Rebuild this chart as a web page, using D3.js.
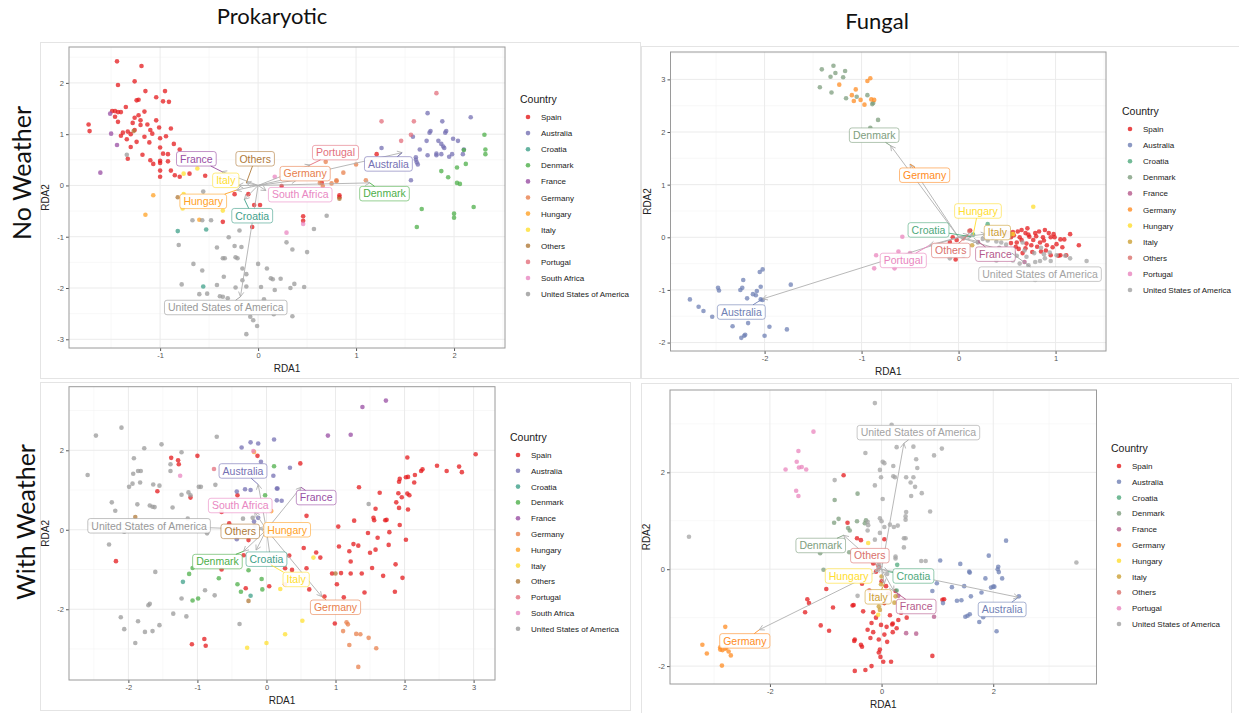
<!DOCTYPE html>
<html>
<head>
<meta charset="utf-8">
<script src="https://cdn.jsdelivr.net/npm/d3@7"></script>
<style>
body { margin: 0; background: #fff; }
svg { display: block; font-family: "Liberation Sans", Arial, sans-serif; }
</style>
</head>
<body>
<div id="chart"></div>
<script>
//Countries and colours
const prokCountries = ["Spain", "Australia", "Croatia", "Denmark", "France", "Germany", "Hungary", "Italy", "Others", "Portugal", "South Africa", "United States of America"];
const prokColors = ["#E41A1C", "#7570B3", "#3FA08A", "#4DAF4A", "#984EA3", "#E8804C", "#FFA126", "#FFE030", "#B07A3A", "#E36F7C", "#E987C2", "#999999"];
const fungCountries = ["Spain", "Australia", "Croatia", "Denmark", "France", "Germany", "Hungary", "Italy", "Others", "Portugal", "United States of America"];
const fungColors = ["#E41A1C", "#6F80B4", "#4FA97C", "#7E9E7E", "#B5598B", "#FF8C23", "#FFDD2E", "#CCA035", "#DA716C", "#E985BE", "#A3A3A3"];

//Ticks
const p1XTicks = [-1, 0, 1, 2], p1YTicks = [-3, -2, -1, 0, 1, 2];
const p2XTicks = [-2, -1, 0, 1], p2YTicks = [-2, -1, 0, 1, 2, 3];
const p3XTicks = [-2, -1, 0, 1, 2, 3], p3YTicks = [-2, 0, 2];
const p4XTicks = [-2, 0, 2], p4YTicks = [-2, 0, 2];
const p1XDomain = [-1.93, 2.52], p1YDomain = [-3.17, 2.70];
const p2XDomain = [-2.97, 1.52], p2YDomain = [-2.16, 3.52];
const p3XDomain = [-2.86, 3.31], p3YDomain = [-3.78, 3.60];
const p4XDomain = [-3.79, 3.85], p4YDomain = [-2.37, 3.70];

//Prokaryotic, no weather: site scores
const p1Points = [
  ["Spain", [[-1.44,2.42],[-1.19,2.33],[-1.26,2.03],[-1.43,1.96],[-1.15,1.84],[-0.95,1.84],[-1.04,1.72],[-0.97,1.64],[-0.91,1.63],[-1.24,1.66],[-1.22,1.67],[-1.73,1.19],[-1.72,1.06],[-1.49,1.45],[-1.46,1.45],[-1.43,1.43],[-1.40,1.43],[-1.35,1.53],[-1.46,1.34],[-1.43,1.24],[-1.26,1.32],[-1.22,1.37],[-1.20,1.27],[-1.28,1.22],[-1.16,1.44],[-1.13,1.19],[-1.04,1.27],[-1.01,1.13],[-0.89,1.11],[-1.38,1.03],[-1.40,0.97],[-1.33,1.05],[-1.26,1.08],[-1.20,1.18],[-1.34,0.90],[-1.24,0.85],[-1.30,0.75],[-1.16,0.95],[-1.08,1.01],[-1.11,0.84],[-1.00,0.92],[-0.94,0.96],[-1.00,0.74],[-0.97,0.62],[-0.92,0.61],[-0.86,0.81],[-0.80,0.70],[-1.10,0.49],[-1.00,0.48],[-1.00,0.44],[-0.92,0.47],[-1.07,0.42],[-0.89,0.29],[-1.00,0.29],[-1.00,0.17],[-0.85,0.20],[-0.80,0.17],[-0.70,0.23],[-0.54,0.19],[-1.33,0.52],[-0.24,-0.17],[-0.10,-0.17],[-0.04,-0.38],[0.02,-0.38],[-0.36,-0.71],[-0.06,-0.81],[0.24,-0.01],[0.46,-0.60],[0.46,-0.69],[0.83,-0.19],[0.83,-0.23],[0.65,0.05],[1.21,0.61],[-1.30,1.00],[-1.10,1.08],[-1.18,0.60],[-0.75,0.60]]],
  ["Australia", [[1.73,1.41],[1.88,1.25],[2.17,1.33],[1.58,0.95],[1.75,1.03],[1.76,1.06],[1.91,1.03],[1.92,1.06],[1.72,0.87],[1.84,0.87],[1.87,0.81],[1.89,0.76],[1.90,0.73],[1.99,0.91],[2.04,0.87],[1.65,0.70],[1.73,0.59],[1.82,0.62],[1.82,0.59],[1.87,0.61],[1.95,0.56],[1.98,0.61],[2.09,0.61],[2.10,0.70],[1.61,0.55],[1.61,0.50],[1.62,0.45],[1.63,0.41],[1.26,0.73],[1.56,0.10]]],
  ["Croatia", [[-0.82,-0.89],[-0.53,-0.86],[-0.56,-1.97]]],
  ["Denmark", [[2.31,0.99],[2.32,0.70],[2.32,0.61],[2.10,0.69],[2.12,0.42],[2.03,0.35],[1.87,0.28],[1.94,0.16],[2.03,0.05],[2.06,0.03],[2.20,-0.42],[2.00,-0.55],[2.00,-0.63],[1.67,-0.46],[1.62,-0.81]]],
  ["France", [[-1.61,0.25],[-1.50,1.01],[-1.44,0.79],[-1.51,1.40]]],
  ["Germany", [[0.69,0.46],[0.87,0.25],[0.80,0.10],[0.80,0.08],[1.00,0.41],[1.10,0.10],[0.63,0.05],[0.66,-0.01],[0.75,0.04]]],
  ["Hungary", [[-1.07,-0.19],[-1.15,-0.57],[-0.60,-0.67]]],
  ["Italy", [[-0.62,0.33],[-0.76,0.23],[-0.36,-0.49],[-0.77,-0.45],[-0.76,-0.17]]],
  ["Others", [[0.83,-0.26],[-1.27,1.06],[-0.82,-0.23]]],
  ["Portugal", [[1.82,1.80],[1.26,1.25],[1.59,1.25],[1.46,0.87],[1.56,0.99]]],
  ["South Africa", [[0.17,0.17],[0.29,-0.92],[0.46,-0.75]]],
  ["United States of America", [[-1.34,0.60],[-0.67,-0.68],[-0.57,-0.68],[-0.48,-0.68],[-0.81,-1.16],[-0.78,-1.93],[-0.66,-1.53],[-0.57,-1.66],[-0.60,-2.12],[-0.52,-2.11],[-0.42,-1.94],[-0.42,-1.21],[-0.36,-1.42],[-0.34,-1.42],[-0.35,-1.78],[-0.30,-1.01],[-0.24,-1.18],[-0.17,-1.20],[-0.23,-1.40],[-0.21,-1.42],[-0.19,-0.88],[-0.16,-1.62],[-0.12,-1.73],[-0.12,-1.97],[-0.16,-1.85],[-0.23,-1.99],[-0.39,-2.16],[-0.36,-2.17],[-0.31,-2.20],[0.00,-1.53],[0.09,-1.62],[0.03,-1.98],[0.13,-1.81],[0.15,-1.83],[0.23,-1.82],[0.17,-2.04],[0.33,-2.00],[0.37,-1.92],[0.47,-1.98],[0.35,-2.55],[0.29,-1.11],[0.35,-1.25],[0.50,-1.30],[0.57,-0.85],[0.70,-0.59],[-0.56,-0.12],[0.06,-2.22],[0.16,-2.51],[-0.05,-2.63],[-0.01,-2.74],[-0.12,-2.90],[-0.08,-2.56]]]
];
//[country, arrow tip x, tip y, label x, label y]
const p1Vectors = [
  ["United States of America", -0.18, -2.17, -0.33, -2.38],
  ["Australia", 1.47, 0.64, 1.33, 0.42],
  ["Denmark", 1.14, 0.05, 1.29, -0.16],
  ["Portugal", 0.53, 0.40, 0.79, 0.64],
  ["Germany", 0.39, 0.10, 0.48, 0.23],
  ["South Africa", 0.08, -0.10, 0.43, -0.18],
  ["Croatia", -0.14, -0.27, -0.06, -0.59],
  ["Hungary", -0.22, -0.09, -0.56, -0.31],
  ["Italy", -0.20, 0.00, -0.33, 0.10],
  ["France", -0.37, 0.27, -0.63, 0.52],
  ["Others", -0.12, 0.05, -0.03, 0.52]
];

//Fungal, no weather
const p2Points = [
  ["Spain", [[0.12,0.13],[-0.06,0],[-0.02,-0.05],[-0.09,-0.09],[-0.03,-0.42],[0.52,0.08],[0.54,0],[0.57,0.04],[0.61,0.11],[0.63,0],[0.65,-0.05],[0.69,0.08],[0.71,0.17],[0.73,0.01],[0.77,-0.05],[0.79,0.08],[0.83,0.11],[0.87,0],[0.88,-0.06],[0.91,-0.15],[0.95,0],[0.97,-0.19],[1.01,-0.13],[1.05,-0.04],[1.07,-0.19],[1.09,-0.04],[1.15,0.06],[1.24,-0.15],[0.89,0.14],[0.81,-0.18],[0.75,-0.15],[0.59,-0.18],[0.54,-0.11],[0.69,-0.21],[0.85,-0.27],[1.03,-0.35],[1.05,-0.34],[1.11,-0.34],[0.95,-0.34],[0.65,0.14],[0.48,0.04],[0.44,0.08],[0.93,0.08],[0.99,0],[0.60,-0.10],[0.70,-0.12],[0.80,0.02],[0.84,-0.10],[0.90,-0.25],[0.76,-0.28],[0.66,-0.30],[0.98,0.06],[0.56,0.10],[0.72,0.05],[0.62,-0.22]]],
  ["Australia", [[-2.77,-1.18],[-2.68,-1.32],[-2.63,-1.40],[-2.54,-1.51],[-2.48,-0.96],[-2.47,-1.01],[-2.33,-1.69],[-2.25,-1.00],[-2.23,-0.96],[-2.22,-0.81],[-2.18,-1.16],[-2.17,-1.63],[-2.24,-1.91],[-2.21,-1.87],[-2.20,-1.85],[-2.08,-1.02],[-2.09,-1.10],[-2.04,-0.94],[-2.05,-0.66],[-2.02,-0.61],[-2.04,-1.18],[-2.02,-1.19],[-1.95,-1.70],[-2.00,-1.87],[-1.77,-1.75],[-1.73,-0.90],[-2.12,-1.08]]],
  ["Croatia", [[0.30,0.25],[0.15,0.05]]],
  ["Denmark", [[-1.41,3.19],[-1.29,3.26],[-1.27,3.12],[-1.17,3.16],[-1.32,3.05],[-1.19,3.04],[-1.43,2.85],[-1.31,2.75],[-1.16,2.64],[-1.05,2.67],[-0.94,2.70],[-0.89,2.53],[-0.83,2.23],[-0.91,2.08],[-0.88,2.55]]],
  ["France", [[0.68,-0.47],[0.20,-0.09]]],
  ["Germany", [[-1.23,2.90],[-0.94,2.97],[-0.91,3.02],[-1.06,2.81],[-1.10,2.70],[-1.08,2.59],[-1.01,2.61],[-0.97,2.52],[-0.90,2.62],[-0.87,2.61]]],
  ["Hungary", [[0.77,0.58],[0.56,0.06]]],
  ["Italy", [[0.14,-0.15],[0.53,0.05],[0.46,0.04]]],
  ["Others", [[0.11,0.12],[0.05,-0.02]]],
  ["Portugal", [[-0.58,0.01],[-0.85,-0.34],[-0.87,-0.59],[-0.62,-0.27],[-0.66,-0.59],[-0.50,-0.30]]],
  ["United States of America", [[0.39,-0.08],[0.44,-0.10],[0.49,-0.14],[0.56,-0.23],[0.39,-0.44],[0.56,-0.44],[0.70,-0.37],[0.79,-0.47],[0.84,-0.45],[0.89,-0.40],[0.94,-0.29],[1.01,-0.34],[1.10,-0.35],[1.32,-0.45],[0.63,-0.50],[0.72,-0.53],[0.79,-0.81],[0.25,-0.03],[0.47,-0.27],[0.57,-0.30],[0.68,-0.25],[0.78,-0.30],[0.30,-0.06],[0.42,-0.20],[0.35,-0.01],[0.50,0.02],[0.60,-0.35],[0.85,-0.20],[1.15,-0.40],[0.95,-0.45],[0.66,-0.10],[0.88,-0.32],[-0.09,-0.40],[0.05,-0.35],[0.20,-0.10]]]
];
const p2Vectors = [
  ["Denmark", -0.70, 1.74, -0.87, 1.94],
  ["Germany", -0.50, 1.39, -0.35, 1.18],
  ["Hungary", 0.15, 0.04, 0.20, 0.50],
  ["Croatia", 0.13, 0.01, -0.31, 0.14],
  ["Italy", 0.28, 0.06, 0.40, 0.09],
  ["Others", 0.10, 0.05, -0.08, -0.25],
  ["France", 0.20, -0.08, 0.38, -0.32],
  ["Portugal", -0.30, -0.15, -0.57, -0.44],
  ["United States of America", 0.55, -0.30, 0.84, -0.70],
  ["Australia", -2.02, -1.17, -2.24, -1.42]
];

//Prokaryotic, with weather
const p3Points = [
  ["Spain", [[-1.38,1.81],[-1.28,1.75],[-1.27,1.65],[-1.00,1.86],[-1.58,0.97],[-1.10,0.81],[-2.18,-0.79],[-0.65,0.45],[-0.54,0.16],[-1.08,-2.88],[-0.90,-2.75],[-0.88,-2.92],[-0.65,-1.00],[-0.30,-1.47],[0.04,-1.42],[-0.13,1.86],[-0.42,0.87],[-0.26,-0.26],[-0.33,-0.64],[3.03,1.90],[2.47,1.61],[2.61,1.48],[2.79,1.59],[2.83,1.45],[2.04,1.82],[2.26,1.52],[2.24,1.48],[2.15,1.38],[2.14,1.19],[1.93,1.28],[1.92,1.21],[2.02,1.32],[2.05,1.33],[1.34,1.07],[1.64,0.93],[1.91,0.92],[1.96,0.82],[2.04,0.91],[2.07,0.87],[1.88,0.69],[1.92,0.55],[2.05,0.51],[1.58,0.53],[1.27,0.23],[1.55,0.30],[1.56,0.24],[1.72,0.24],[1.74,0.25],[1.93,0.12],[1.04,0.08],[1.78,-0.06],[1.47,-0.08],[2.02,-0.25],[1.61,-0.20],[1.77,-0.38],[1.26,-0.36],[1.33,-0.40],[1.20,-0.54],[1.22,-0.80],[1.50,-0.58],[1.58,-0.50],[1.05,-0.42],[0.54,-0.46],[0.72,-0.57],[0.78,-0.70],[1.53,-0.96],[1.87,-0.87],[0.95,-1.10],[1.08,-1.09],[1.22,-1.10],[1.38,-1.10],[1.69,-1.16],[1.97,-1.21],[1.02,-1.37],[0.62,-1.50],[0.84,-1.68],[1.12,-1.70],[1.42,-1.58],[1.86,-1.56],[0.99,-2.36],[0.49,1.67],[0.58,0.35],[0.27,-0.97],[0.37,-1.01],[0.58,-0.97],[0.27,-1.37],[0.33,-0.65]]],
  ["Australia", [[-0.23,2.20],[-0.12,2.17],[-0.36,2.07],[0.11,2.27],[0.10,1.36],[-0.43,0.96],[-0.31,1.02],[-0.23,1.00],[-0.43,-0.24],[0.15,1.04],[0.15,0.74],[0.34,1.56],[0.22,0.73],[-0.08,1.71],[0.16,1.04],[-0.18,0.21],[-0.17,0.10],[-0.12,0.30]]],
  ["Croatia", [[-1.21,-1.31],[-0.23,-1.66]]],
  ["Denmark", [[-1.07,-0.96],[-1.12,-1.11],[-1.07,-1.78],[-0.99,-1.73],[-0.69,-1.22],[-0.42,-1.37],[-0.37,-1.56],[-0.26,-1.02],[-0.07,-1.24],[-0.06,-1.50],[0.11,1.60],[-0.02,0.87]]],
  ["France", [[1.73,3.25],[1.39,3.09],[0.89,2.37],[1.22,2.39]]],
  ["Germany", [[1.16,-2.33],[1.18,-2.38],[1.11,-2.55],[1.30,-2.62],[1.36,-2.63],[1.48,-2.72],[1.20,-2.90],[1.59,-2.98],[1.33,-3.45]]],
  ["Hungary", [[0.07,0.47],[-0.18,1.96]]],
  ["Italy", [[0.68,-0.70],[0.52,-2.29],[0.27,-2.63],[-0.28,-2.97],[0.00,-2.85],[0.20,-1.49]]],
  ["Others", [[-1.90,0.32],[-0.26,-1.79],[1.00,-1.10]]],
  ["Portugal", [[-0.76,1.53]]],
  ["South Africa", [[-1.25,1.36],[-0.19,1.98]]],
  ["United States of America", [[-2.10,2.57],[-2.47,2.37],[-2.59,1.38],[-1.92,1.80],[-1.77,2.05],[-1.52,2.15],[-1.93,1.41],[-1.86,1.48],[-1.82,1.48],[-1.99,1.08],[-1.94,1.16],[-1.83,1.19],[-1.64,1.14],[-1.55,1.11],[-1.23,1.95],[-1.39,1.65],[-1.39,1.48],[-1.23,0.88],[-1.13,0.94],[-1.10,0.87],[-0.98,1.08],[-0.95,1.08],[-0.72,2.34],[-0.74,1.13],[-1.14,0.28],[-2.24,0.69],[-2.19,0.48],[-1.87,0.64],[-1.69,0.61],[-1.65,0.58],[-1.62,0.57],[-1.36,0.56],[-2.28,-0.37],[-2.06,-0.05],[-1.61,-1.06],[-1.71,-1.90],[-1.69,-1.86],[-2.11,-2.20],[-2.06,-2.50],[-1.90,-2.85],[-1.86,-2.30],[-1.76,-2.57],[-1.65,-2.55],[-1.55,-2.40],[-1.35,-2.11],[-1.16,-2.18],[-1.23,-1.73],[-0.89,-1.52],[-0.75,-1.65],[-0.39,-2.37],[-0.86,-0.09],[-0.34,0.28],[-0.20,0.30],[1.48,0.65],[-2.55,0.15]]]
];
const p3Vectors = [
  ["Australia", -0.12, 1.14, -0.34, 1.48],
  ["France", 0.50, 1.07, 0.72, 0.81],
  ["South Africa", -0.17, 0.45, -0.38, 0.61],
  ["United States of America", -2.57, 0.16, -1.70, 0.10],
  ["Others", -0.10, 0.05, -0.38, -0.04],
  ["Hungary", 0.05, 0.02, 0.30, 0.00],
  ["Denmark", -0.33, -0.54, -0.71, -0.80],
  ["Croatia", -0.15, -0.51, 0.00, -0.74],
  ["Italy", 0.07, -0.89, 0.43, -1.25],
  ["Germany", 0.80, -1.68, 1.00, -1.95]
];

//Fungal, with weather
const p4Points = [
  ["Spain", [[-0.68,1.94],[-0.61,0.96],[-0.44,0.64],[-0.37,0.60],[0.05,0.62],[-0.99,-0.41],[-1.33,-0.62],[-1.30,-0.70],[-1.37,-0.89],[-0.87,-0.79],[-1.09,-1.16],[-0.94,-1.27],[-0.52,-0.75],[-0.50,-0.74],[-0.33,-0.87],[-0.15,-0.89],[-0.35,-0.30],[-0.22,-0.44],[-0.18,-1.11],[-0.01,-1.15],[0.09,-1.19],[0.19,-1.14],[0.27,-1.22],[-0.48,-1.45],[-0.49,-1.48],[-0.37,-1.56],[-0.35,-1.60],[-0.03,-1.66],[-0.02,-1.81],[0.03,-1.91],[0.17,-1.91],[-0.18,-2.00],[-0.29,-2.08],[-0.48,-2.10],[1.09,-0.63],[0.91,-1.79],[1.12,-0.62],[-0.10,-0.05],[-0.05,0.05],[-0.15,0.12],[0.00,-0.25],[0.08,-0.35],[0.12,-0.50],[0.25,-0.45],[-0.10,-0.55],[0.05,-0.70],[0.15,-0.95],[-0.10,-1.00],[-0.25,-1.25],[-0.15,-1.30],[0.05,-1.35],[0.20,-1.30],[-0.05,-1.45],[0.10,-1.50],[-0.20,-1.42],[0.30,-1.05],[0.45,-1.00],[-0.05,-1.72],[0.20,-1.12],[0.35,-0.90]]],
  ["Australia", [[2.23,0.59],[1.92,0.28],[1.41,0.11],[1.05,0.18],[1.57,-0.05],[1.58,-0.07],[2.09,0.05],[2.08,0.00],[2.10,-0.06],[1.86,-0.19],[2.16,-0.19],[1.96,-0.38],[2.00,-0.36],[2.02,-0.36],[2.46,-0.56],[0.99,-0.29],[1.26,-0.37],[1.48,-0.35],[0.91,-0.45],[1.10,-0.70],[1.35,-0.65],[1.43,-0.64],[1.60,-0.56],[1.79,-0.48],[1.54,-0.96],[1.58,-0.93],[1.50,-0.98],[1.75,-1.09],[1.82,-0.99],[2.06,-1.28]]],
  ["Croatia", [[0.28,0.09],[0.27,-0.44]]],
  ["Denmark", [[-0.43,1.56],[-0.84,1.43],[-0.85,0.96],[-0.77,1.04],[-0.60,0.85],[-0.57,0.80],[-0.44,0.99],[-0.28,1.01],[-1.10,0.33],[-1.04,-0.01],[-0.58,0.35],[-0.30,0.95]]],
  ["France", [[0.94,-0.98],[0.44,-1.32],[0.62,-1.33],[0.30,-0.55]]],
  ["Germany", [[-2.80,-1.19],[-3.21,-1.56],[-3.13,-1.74],[-2.89,-1.61],[-2.85,-1.67],[-2.80,-1.64],[-2.74,-1.70],[-2.70,-1.78],[-2.86,-1.99],[-2.89,-1.66],[-2.78,-1.62]]],
  ["Hungary", [[-0.24,0.54],[-0.06,-0.94]]],
  ["Italy", [[-0.01,-0.31],[0.23,-0.69],[0.25,-0.56],[-0.05,-0.77],[-0.03,-0.84],[0.00,-0.15]]],
  ["Others", [[-0.05,0.02]]],
  ["Portugal", [[-1.22,2.84],[-1.49,2.44],[-1.52,2.22],[-1.48,2.10],[-1.43,2.11],[-1.35,2.06],[-1.72,2.06],[-1.53,1.62],[-1.49,1.51]]],
  ["United States of America", [[-3.45,0.67],[3.49,0.14],[-0.12,3.43],[0.18,2.98],[0.27,2.52],[-0.29,2.40],[0.57,2.53],[0.94,2.35],[1.08,2.49],[0.02,2.22],[0.05,2.19],[-0.03,2.05],[-0.01,1.90],[0.21,2.13],[0.62,2.27],[0.64,2.09],[0.21,1.92],[0.24,1.90],[0.44,1.90],[0.57,1.90],[0.52,1.79],[0.60,1.70],[0.53,1.51],[0.72,1.57],[-0.12,1.73],[0.02,1.45],[0.44,1.18],[0.43,1.09],[0.43,1.02],[0.87,1.19],[-0.03,1.05],[0.00,0.99],[-0.25,0.98],[-0.24,0.91],[-0.25,0.80],[0.05,0.87],[0.15,0.92],[0.22,0.87],[0.29,0.90],[0.40,0.64],[0.43,0.64],[0.40,0.45],[0.25,0.26],[0.25,0.22],[0.71,0.17],[0.79,0.17],[-0.03,0.75],[-0.12,0.61],[-0.84,1.84],[-0.43,-0.55],[0.10,-0.10],[-0.05,0.10]]]
];
const p4Vectors = [
  ["United States of America", 0.40, 2.60, 0.66, 2.82],
  ["Denmark", -0.68, 0.70, -1.09, 0.49],
  ["Others", -0.08, 0.05, -0.21, 0.28],
  ["Hungary", -0.12, -0.03, -0.59, -0.14],
  ["Croatia", 0.12, -0.05, 0.57, -0.14],
  ["Italy", 0.05, -0.30, -0.06, -0.57],
  ["France", 0.22, -0.45, 0.62, -0.77],
  ["Australia", 2.45, -0.58, 2.16, -0.83],
  ["Germany", -2.19, -1.25, -2.45, -1.48]
];

const W = 1239, H = 713;
let svg = d3.select("#chart").append("svg").attr("width", W).attr("height", H);
svg.append("rect").attr("width", W).attr("height", H).attr("fill", "#fff");

//card outlines
const cards = [[40, 42, 600, 336], [641, 46, 598, 332], [40, 382, 590, 328], [641, 383, 590, 330]];
cards.forEach(function(c) {
    svg.append("rect").attr("x", c[0] + 0.5).attr("y", c[1] + 0.5)
        .attr("width", c[2]).attr("height", c[3])
        .attr("fill", "none").attr("stroke", "#E4E4E4");
});

//headings
const headFont = "Lato, 'Open Sans', sans-serif";
svg.append("text").attr("x", 272).attr("y", 24).attr("text-anchor", "middle")
    .attr("font-family", headFont).attr("font-size", 22).attr("fill", "#111").text("Prokaryotic");
svg.append("text").attr("x", 877).attr("y", 29).attr("text-anchor", "middle")
    .attr("font-family", headFont).attr("font-size", 22).attr("fill", "#111").text("Fungal");
svg.append("text").attr("transform", "translate(31,173) rotate(-90)").attr("text-anchor", "middle")
    .attr("font-family", headFont).attr("font-size", 25).attr("fill", "#111").text("No Weather");
svg.append("text").attr("transform", "translate(35,522) rotate(-90)").attr("text-anchor", "middle")
    .attr("font-family", headFont).attr("font-size", 25).attr("fill", "#111").text("With Weather");

function drawPanel(cfg) {
    let g = svg.append("g");
    let x = d3.scaleLinear().domain(cfg.xDomain).range([cfg.left, cfg.right]);
    let y = d3.scaleLinear().domain(cfg.yDomain).range([cfg.bottom, cfg.top]);
    let color = d3.scaleOrdinal().domain(cfg.countries).range(cfg.colors);

    g.append("rect").attr("x", cfg.left).attr("y", cfg.top)
        .attr("width", cfg.right - cfg.left).attr("height", cfg.bottom - cfg.top).attr("fill", "#fff");

    //grid: minor halfway between majors
    let xs = cfg.xTicks[1] - cfg.xTicks[0], ys = cfg.yTicks[1] - cfg.yTicks[0];
    let xMinor = d3.range(cfg.xTicks[0] - xs / 2, cfg.xDomain[1], xs).filter(v => v > cfg.xDomain[0]);
    let yMinor = d3.range(cfg.yTicks[0] - ys / 2, cfg.yDomain[1], ys).filter(v => v > cfg.yDomain[0]);
    xMinor.forEach(v => g.append("line").attr("x1", x(v)).attr("x2", x(v)).attr("y1", cfg.top).attr("y2", cfg.bottom).attr("stroke", "#F4F4F4").attr("stroke-width", 0.6));
    yMinor.forEach(v => g.append("line").attr("y1", y(v)).attr("y2", y(v)).attr("x1", cfg.left).attr("x2", cfg.right).attr("stroke", "#F4F4F4").attr("stroke-width", 0.6));
    cfg.xTicks.forEach(v => g.append("line").attr("x1", x(v)).attr("x2", x(v)).attr("y1", cfg.top).attr("y2", cfg.bottom).attr("stroke", "#EBEBEB").attr("stroke-width", 1));
    cfg.yTicks.forEach(v => g.append("line").attr("y1", y(v)).attr("y2", y(v)).attr("x1", cfg.left).attr("x2", cfg.right).attr("stroke", "#EBEBEB").attr("stroke-width", 1));

    //axes
    let axisX = d3.axisBottom(x).tickValues(cfg.xTicks).tickSize(3).tickPadding(2).tickFormat(d => String(d));
    let axisY = d3.axisLeft(y).tickValues(cfg.yTicks).tickSize(3).tickPadding(2).tickFormat(d => String(d));
    let ax = g.append("g").attr("transform", `translate(0,${cfg.bottom})`).call(axisX);
    let ay = g.append("g").attr("transform", `translate(${cfg.left},0)`).call(axisY);
    [ax, ay].forEach(function(a) {
        a.select(".domain").remove();
        a.selectAll("line").attr("stroke", "#555");
        a.selectAll("text").attr("font-size", 7.5).attr("fill", "#555").attr("font-family", "Liberation Sans, Arial, sans-serif");
    });

    //points
    cfg.points.forEach(function(grp) {
        g.selectAll(null).data(grp[1]).enter().append("circle")
            .attr("cx", d => x(d[0])).attr("cy", d => y(d[1])).attr("r", 2.3)
            .attr("fill", color(grp[0])).attr("fill-opacity", 0.75);
    });

    //arrows from origin
    cfg.vectors.forEach(function(v) {
        let x0 = x(0), y0 = y(0), x1 = x(v[1]), y1 = y(v[2]);
        g.append("line").attr("x1", x0).attr("y1", y0).attr("x2", x1).attr("y2", y1)
            .attr("stroke", "#B0B0B0").attr("stroke-width", 0.9);
        let a = Math.atan2(y1 - y0, x1 - x0), len = 5.5, sp = 0.5;
        g.append("path")
            .attr("d", `M${x1 - len * Math.cos(a - sp)},${y1 - len * Math.sin(a - sp)}L${x1},${y1}L${x1 - len * Math.cos(a + sp)},${y1 - len * Math.sin(a + sp)}`)
            .attr("fill", "none").attr("stroke", "#B0B0B0").attr("stroke-width", 0.9);
    });

    //repelled labels
    cfg.vectors.forEach(function(v) {
        let c = color(v[0]);
        let cx = x(v[3]), cy = y(v[4]);
        let t = g.append("text").attr("font-size", 10.5).attr("text-anchor", "middle")
            .attr("x", cx).attr("y", cy + 3.8).attr("fill", c).text(v[0]);
        let w = t.node().getComputedTextLength() + 7, h = 14.5;
        let tx = x(v[1]), ty = y(v[2]);
        let dx = tx - cx, dy = ty - cy;
        if (Math.abs(dx) > w / 2 || Math.abs(dy) > h / 2) {
            let s = Math.min(Math.abs(dx) > 0 ? (w / 2) / Math.abs(dx) : 1e9, Math.abs(dy) > 0 ? (h / 2) / Math.abs(dy) : 1e9);
            let ex = cx + dx * s, ey = cy + dy * s;
            if (Math.hypot(tx - ex, ty - ey) > 4) {
                g.append("line").attr("x1", ex).attr("y1", ey).attr("x2", tx).attr("y2", ty)
                    .attr("stroke", c).attr("stroke-width", 0.9);
            }
        }
        g.insert("rect", function() { return t.node(); })
            .attr("x", cx - w / 2).attr("y", cy - h / 2).attr("width", w).attr("height", h)
            .attr("rx", 2.5).attr("fill", "#fff").attr("fill-opacity", 0.92)
            .attr("stroke", c).attr("stroke-opacity", 0.75).attr("stroke-width", 0.8);
        t.raise();
    });

    //panel border
    g.append("rect").attr("x", cfg.left).attr("y", cfg.top)
        .attr("width", cfg.right - cfg.left).attr("height", cfg.bottom - cfg.top)
        .attr("fill", "none").attr("stroke", "#9A9A9A").attr("stroke-width", 1);

    //axis titles
    g.append("text").attr("x", (cfg.left + cfg.right) / 2).attr("y", cfg.bottom + 24)
        .attr("text-anchor", "middle").attr("font-size", 10).attr("fill", "#222").text("RDA1");
    g.append("text").attr("transform", `translate(${cfg.left - 20},${(cfg.top + cfg.bottom) / 2}) rotate(-90)`)
        .attr("text-anchor", "middle").attr("font-size", 10).attr("fill", "#222").text("RDA2");

    //legend
    let lg = g.append("g").attr("transform", `translate(${cfg.legend[0]},${cfg.legend[1]})`);
    lg.append("text").attr("x", 0).attr("y", 4).attr("font-size", 10.5).attr("fill", "#1a1a1a").text("Country");
    cfg.countries.forEach(function(name, i) {
        let yy = 18 + i * cfg.legend[2];
        lg.append("circle").attr("cx", 8).attr("cy", yy).attr("r", 2.3)
            .attr("fill", color(name)).attr("fill-opacity", 0.8);
        lg.append("text").attr("x", 21).attr("y", yy + 3).attr("font-size", 8).attr("fill", "#1a1a1a").text(name);
    });
}

drawPanel({left: 69, right: 505, top: 47, bottom: 348, xDomain: p1XDomain, yDomain: p1YDomain,
    xTicks: p1XTicks, yTicks: p1YTicks, points: p1Points, vectors: p1Vectors,
    countries: prokCountries, colors: prokColors, legend: [520, 99, 16.1]});
drawPanel({left: 670.5, right: 1106, top: 52, bottom: 351, xDomain: p2XDomain, yDomain: p2YDomain,
    xTicks: p2XTicks, yTicks: p2YTicks, points: p2Points, vectors: p2Vectors,
    countries: fungCountries, colors: fungColors, legend: [1122, 111, 16.1]});
drawPanel({left: 69, right: 495, top: 386.7, bottom: 680, xDomain: p3XDomain, yDomain: p3YDomain,
    xTicks: p3XTicks, yTicks: p3YTicks, points: p3Points, vectors: p3Vectors,
    countries: prokCountries, colors: prokColors, legend: [510, 437, 15.8]});
drawPanel({left: 670, right: 1096.5, top: 390, bottom: 684, xDomain: p4XDomain, yDomain: p4YDomain,
    xTicks: p4XTicks, yTicks: p4YTicks, points: p4Points, vectors: p4Vectors,
    countries: fungCountries, colors: fungColors, legend: [1111, 448, 15.8]});
</script>
</body>
</html>
